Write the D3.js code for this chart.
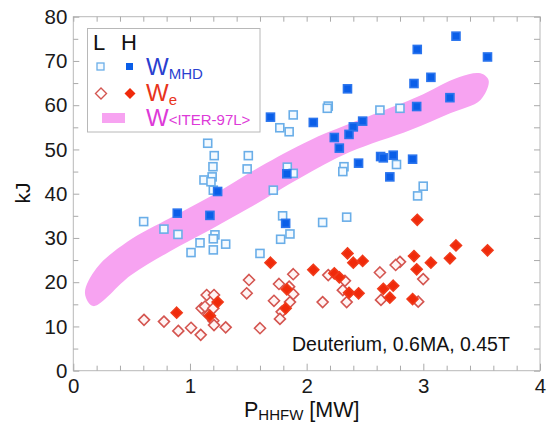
<!DOCTYPE html>
<html>
<head>
<meta charset="utf-8">
<script src="https://cdn.jsdelivr.net/npm/d3@7"></script>
<style>
  body { margin: 0; background: #fff; }
  svg text { font-family: "Liberation Sans", Arial, sans-serif; }
</style>
</head>
<body>
<div id="chart"></div>
<script>
// L = open markers, H = filled markers
const lowMhd = [[1.885,57.8],[1.77,54.9],[1.85,54.0],[1.152,51.4],[1.208,48.6],[1.50,48.6],[1.197,46.1],[1.49,45.6],
  [1.834,46.0],[1.885,44.6],[1.19,43.8],[1.12,43.1],[1.18,42.7],[1.20,40.8],[1.714,40.8],[1.794,35.0],[0.603,33.7],
  [0.777,32.0],[0.897,30.8],[1.857,30.9],[1.777,29.7],[1.214,30.7],[1.2,29.8],[1.086,28.9],[1.306,28.6],[1.009,26.7],
  [1.2,27.3],[1.60,26.5],[2.185,59.8],[2.177,59.3],[2.628,58.9],[2.8,59.3],[2.32,46.1],[2.31,45.0],[2.77,46.6],
  [2.999,41.7],[2.951,39.5],[2.137,33.5],[2.343,34.7]];
const highMhd = [[1.69,57.3],[1.83,44.5],[1.237,40.5],[0.891,35.6],[1.171,35.1],[1.82,33.3],[3.28,75.6],[2.948,72.6],
  [3.55,70.9],[2.35,63.7],[3.065,66.3],[2.92,64.9],[3.228,61.7],[2.057,56.1],[2.943,59.7],[2.48,56.4],[2.40,55.1],
  [2.237,52.7],[2.363,53.4],[2.28,50.3],[2.445,46.9],[2.634,48.4],[2.657,48.1],[2.742,48.7],[2.908,47.8],[2.713,43.8]];
const lowWe = [[1.885,21.8],[1.506,20.5],[1.763,19.6],[1.85,19.0],[1.486,17.5],[1.885,17.3],[1.143,17.1],[1.206,17.1],
  [1.72,15.8],[1.857,15.5],[1.10,14.1],[1.129,14.5],[1.2,14.1],[1.786,13.3],[1.157,12.6],[1.2,11.3],[1.771,11.7],
  [0.606,11.5],[0.777,11.1],[1.206,10.3],[1.306,9.8],[1.009,9.7],[1.60,9.6],[0.9,9.0],[1.092,8.1],[2.8,24.6],
  [2.763,23.9],[2.185,21.6],[2.628,22.2],[2.999,20.7],[2.328,20.3],[2.31,18.2],[2.637,16.0],[2.956,15.6],
  [2.137,15.5],[2.343,15.5]];
const highWe = [[1.69,24.4],[1.83,18.4],[1.237,15.5],[1.82,14.1],[0.886,13.1],[1.171,12.4],[2.948,34.1],[3.28,28.3],
  [3.55,27.2],[2.35,26.5],[2.92,25.9],[3.228,25.4],[3.065,24.4],[2.40,24.4],[2.48,24.8],[2.057,22.8],[2.237,22.0],
  [2.28,21.1],[2.943,22.9],[2.363,17.6],[2.445,17.5],[2.657,18.5],[2.742,19.2],[2.713,16.5],[2.908,16.2]];

// ITER-97L scaling band outline (upper edge left->right, lower edge right->left)
const bandUpper = [[0.10,17.5],[0.20,23.2],[0.46,29.1],[0.83,34.5],[1.17,39.3],[1.6,46.1],[2.03,52.1],
  [2.63,58.5],[2.95,61.9],[3.31,66.4],[3.49,67.2],[3.56,65.6]];
const bandLower = [[3.49,61.2],[3.23,58.2],[2.89,54.4],[2.37,49.4],[1.94,43.5],[1.51,36.8],[1.17,31.8],
  [0.83,27.0],[0.49,21.5],[0.17,14.6]];

const xMajor = [0, 1, 2, 3, 4];
const yMajor = [0, 10, 20, 30, 40, 50, 60, 70, 80];

const W = 558, H = 425;
const svg = d3.select("#chart").append("svg").attr("width", W).attr("height", H);

const x = d3.scaleLinear().domain([0, 4]).range([73.3, 540]);
const y = d3.scaleLinear().domain([0, 80]).range([370.7, 16.7]);

// band
svg.append("path")
  .attr("fill", "#f7a3f1")
  .attr("d", d3.line().x(d => x(d[0])).y(d => y(d[1])).curve(d3.curveCatmullRomClosed.alpha(0.5))(bandUpper.concat(bandLower)));

// frame
svg.append("rect")
  .attr("x", x(0)).attr("y", y(80))
  .attr("width", x(4) - x(0)).attr("height", y(0) - y(80))
  .attr("fill", "none").attr("stroke", "#b8b8b8");

const xMinor = d3.range(0, 4.01, 0.2).filter(v => Math.abs(v - Math.round(v)) > 1e-6);
const yMinor = d3.range(5, 80, 10);

function styleAxis(g) {
  g.select(".domain").remove();
  g.selectAll(".tick line").attr("stroke", "#aaa");
  g.selectAll(".tick text").attr("fill", "#1a1a1a").style("font-size", "20.5px");
}

svg.append("g").attr("transform", `translate(0,${y(0)})`)
  .call(d3.axisBottom(x).tickValues(xMajor).tickSizeInner(-7).tickSizeOuter(0).tickPadding(8).tickFormat(d3.format("d")))
  .call(styleAxis);
svg.append("g").attr("transform", `translate(0,${y(0)})`)
  .call(d3.axisBottom(x).tickValues(xMinor).tickSizeInner(-5).tickSizeOuter(0).tickFormat(""))
  .call(styleAxis);
svg.append("g").attr("transform", `translate(0,${y(80)})`)
  .call(d3.axisTop(x).tickValues(xMajor.concat(xMinor)).tickSizeInner(-5).tickSizeOuter(0).tickFormat(""))
  .call(styleAxis);
svg.append("g").attr("transform", `translate(${x(0)},0)`)
  .call(d3.axisLeft(y).tickValues(yMajor).tickSizeInner(-6).tickSizeOuter(0).tickPadding(6).tickFormat(d3.format("d")))
  .call(styleAxis);
svg.append("g").attr("transform", `translate(${x(0)},0)`)
  .call(d3.axisLeft(y).tickValues(yMinor).tickSizeInner(-5).tickSizeOuter(0).tickFormat(""))
  .call(styleAxis);
svg.append("g").attr("transform", `translate(${x(4)},0)`)
  .call(d3.axisRight(y).tickValues(yMajor.concat(yMinor)).tickSizeInner(-6).tickSizeOuter(0).tickFormat(""))
  .call(styleAxis);

// markers
const sq = 8, dm = 5.5;
const diamond = (cx, cy) => `M${cx},${cy - dm}L${cx + dm},${cy}L${cx},${cy + dm}L${cx - dm},${cy}Z`;

function squares(data, fill, stroke) {
  svg.append("g").selectAll("rect").data(data).join("rect")
    .attr("x", d => x(d[0]) - sq / 2).attr("y", d => y(d[1]) - sq / 2)
    .attr("width", sq).attr("height", sq)
    .attr("fill", fill).attr("stroke", stroke).attr("stroke-width", 1.6);
}
function diamonds(data, fill, stroke) {
  svg.append("g").selectAll("path").data(data).join("path")
    .attr("d", d => diamond(x(d[0]), y(d[1])))
    .attr("fill", fill).attr("stroke", stroke).attr("stroke-width", 1.6);
}
squares(lowMhd, "#f4faff", "#6aaee8");
squares(highMhd, "#0a5ee8", "#2a74ee");
diamonds(lowWe, "#fff4f4", "#d45550");
diamonds(highWe, "#f02a0a", "#f03a1a");

// legend
const lg = svg.append("g");
lg.append("rect").attr("x", 87.5).attr("y", 28.5).attr("width", 172.5).attr("height", 103.5)
  .attr("fill", "#fff").attr("stroke", "#b8b8b8");
lg.append("text").attr("x", 93).attr("y", 50).style("font-size", "22px").attr("fill", "#111").text("L");
lg.append("text").attr("x", 121).attr("y", 50).style("font-size", "22px").attr("fill", "#111").text("H");
lg.append("rect").attr("x", 97).attr("y", 63).attr("width", 7).attr("height", 7).attr("fill", "#f4faff").attr("stroke", "#6aaee8").attr("stroke-width", 1.3);
lg.append("rect").attr("x", 126).attr("y", 63).attr("width", 7).attr("height", 7).attr("fill", "#0a5ee8");
lg.append("path").attr("d", diamond(101, 93.5)).attr("fill", "#fff").attr("stroke", "#d45550").attr("stroke-width", 1.4);
lg.append("path").attr("d", diamond(130, 93.5)).attr("fill", "#f02a0a");
lg.append("rect").attr("x", 102).attr("y", 113).attr("width", 23).attr("height", 10).attr("fill", "#f7a3f1");

const t1 = lg.append("text").attr("x", 146).attr("y", 75).attr("fill", "#2a3fd0");
t1.append("tspan").style("font-size", "24px").text("W");
t1.append("tspan").style("font-size", "15px").attr("dy", 4).text("MHD");
const t2 = lg.append("text").attr("x", 146).attr("y", 101).attr("fill", "#e8341c");
t2.append("tspan").style("font-size", "24px").text("W");
t2.append("tspan").style("font-size", "15px").attr("dy", 4).text("e");
const t3 = lg.append("text").attr("x", 146).attr("y", 126).attr("fill", "#dd3ad8");
t3.append("tspan").style("font-size", "24px").text("W");
t3.append("tspan").style("font-size", "15px").attr("dy", -1).text("<ITER-97L>");

// annotation
svg.append("text").attr("x", 292).attr("y", 351).style("font-size", "19.5px").attr("fill", "#111")
  .text("Deuterium, 0.6MA, 0.45T");

// axis titles
svg.append("text").attr("transform", "translate(30,193) rotate(-90)").attr("text-anchor", "middle")
  .style("font-size", "21px").attr("fill", "#111").text("kJ");
const xt = svg.append("text").attr("x", 244).attr("y", 417).style("font-size", "21.5px").attr("fill", "#111");
xt.append("tspan").text("P");
xt.append("tspan").style("font-size", "15px").attr("dy", 3).text("HHFW");
xt.append("tspan").attr("dy", -3).text(" [MW]");
</script>
</body>
</html>
